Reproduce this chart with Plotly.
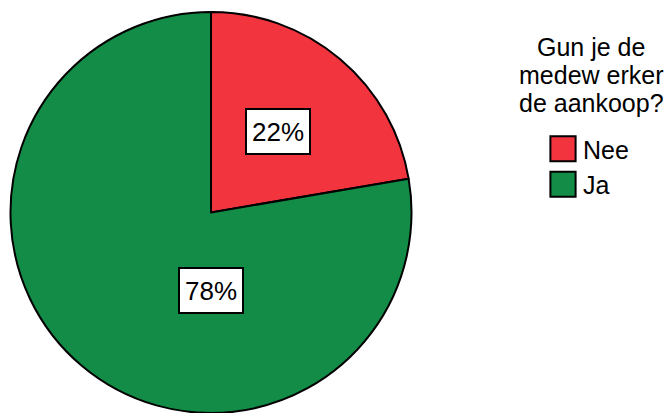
import plotly.graph_objects as go

categories = ["Nee", "Ja"]
values = [22.3, 77.7]
labels_pct = ["22%", "78%"]
colors = ["#F2343F", "#128C46"]
legend_title_lines = ["Gun je de", "medew erker", "de aankoop?"]

W, H = 671, 413
FONT = "Liberation Sans, Arial, sans-serif"

fig = go.Figure()
fig.add_trace(go.Pie(
    labels=categories,
    values=values,
    sort=False,
    direction="clockwise",
    rotation=0,
    textinfo="none",
    hoverinfo="label+percent",
    marker=dict(colors=colors, line=dict(color="black", width=2)),
    domain=dict(x=[10 / W, 412 / W], y=[0, 1 - 12 / H]),
    showlegend=True,
))

# percentage labels in white boxes
label_pos = [(278 / W, 1 - 131 / H), (211 / W, 1 - 290 / H)]
for txt, (px, py) in zip(labels_pct, label_pos):
    fig.add_annotation(
        x=px, y=py, xref="paper", yref="paper",
        xanchor="center", yanchor="middle",
        text=txt, showarrow=False, height=33,
        font=dict(family=FONT, size=26, color="black"),
        bgcolor="white", bordercolor="black", borderwidth=2, borderpad=5,
    )

# legend title (centered above the items), one line per annotation
for i, line in enumerate(legend_title_lines):
    fig.add_annotation(
        x=591 / W, y=1 - (31 + 28 * i) / H, xref="paper", yref="paper",
        xanchor="center", yanchor="top", align="center",
        text=line, showarrow=False,
        font=dict(family=FONT, size=25, color="black"),
    )

fig.update_layout(
    width=W, height=H,
    margin=dict(l=0, r=0, t=0, b=0),
    paper_bgcolor="white",
    plot_bgcolor="white",
    font=dict(family=FONT, size=25, color="black"),
    legend=dict(
        x=543 / W, xanchor="left",
        y=1 - 126 / H, yanchor="top",
        font=dict(size=25),
        bgcolor="rgba(0,0,0,0)",
    ),
)

post = """
document.body.style.margin='0';
document.querySelectorAll('.legendpoints path').forEach(function(p){
  var t = p.getAttribute('transform') || '';
  p.setAttribute('transform', t + ' scale(2.1)');
  p.style.vectorEffect='non-scaling-stroke';
});
"""

fig.write_html("out.html", post_script=post, config={"displayModeBar": False})
